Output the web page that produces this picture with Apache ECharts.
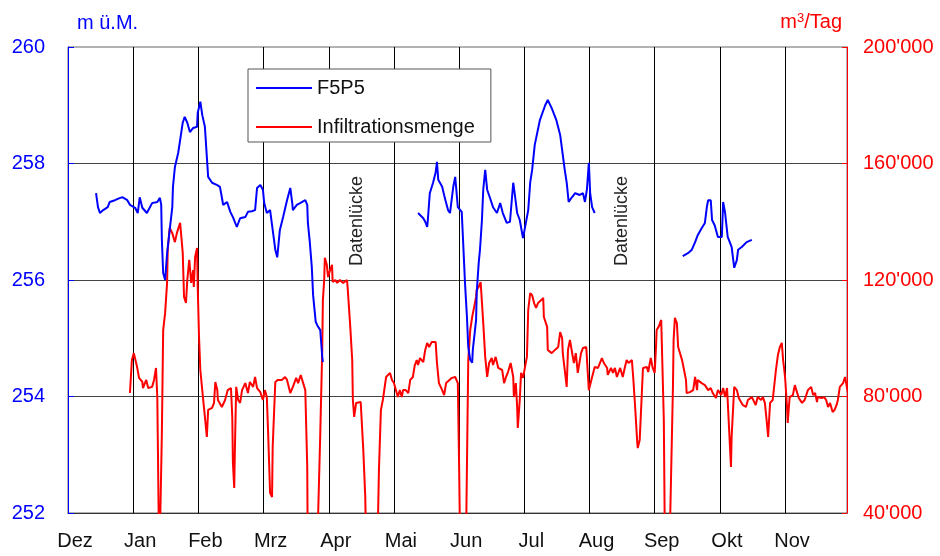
<!DOCTYPE html>
<html>
<head>
<meta charset="utf-8">
<script src="https://cdn.jsdelivr.net/npm/echarts@6/dist/echarts.min.js"></script>
<style>
  html, body { margin: 0; padding: 0; background: #fff; }
  #chart { width: 940px; height: 556px; }
</style>
</head>
<body>
<div id="chart"></div>
<script>
// Monatsbeschriftung der Zeitachse (Dezember bis November)
const months = ['Dez', 'Jan', 'Feb', 'Mrz', 'Apr', 'Mai', 'Jun', 'Jul', 'Aug', 'Sep', 'Okt', 'Nov'];

// Pegel F5P5 [Monat seit 1. Dez, m ü.M.], drei Messabschnitte
const f5p5Winter = [
  [0.43,257.49],[0.46,257.25],[0.49,257.15],[0.54,257.20],[0.61,257.25],[0.64,257.34],[0.72,257.37],[0.80,257.41],
  [0.84,257.42],[0.91,257.37],[0.95,257.29],[1.03,257.24],[1.07,257.15],[1.10,257.42],[1.14,257.24],[1.21,257.15],
  [1.29,257.32],[1.37,257.34],[1.41,257.41],[1.43,257.29],[1.44,256.69],[1.46,256.12],[1.49,256.00],[1.52,256.46],
  [1.56,256.86],[1.60,257.25],[1.61,257.60],[1.64,257.94],[1.69,258.18],[1.72,258.40],[1.76,258.70],[1.79,258.80],
  [1.83,258.70],[1.87,258.54],[1.92,258.61],[1.98,258.63],[1.99,258.87],[2.03,259.06],[2.06,258.83],[2.10,258.63],
  [2.13,258.11],[2.15,257.77],[2.21,257.67],[2.29,257.63],[2.33,257.60],[2.36,257.42],[2.38,257.29],[2.44,257.34],
  [2.49,257.17],[2.53,257.08],[2.59,256.91],[2.64,257.06],[2.72,257.08],[2.76,257.17],[2.82,257.18],[2.87,257.20],
  [2.90,257.58],[2.95,257.63],[2.99,257.55],[3.01,257.32],[3.05,257.15],[3.10,257.20],[3.14,256.86],[3.18,256.52],
  [3.21,256.39],[3.25,256.86],[3.30,257.08],[3.36,257.37],[3.41,257.58],[3.44,257.32],[3.45,257.20],[3.51,257.29],
  [3.56,257.32],[3.64,257.37],[3.67,257.29],[3.68,256.98],[3.71,256.64],[3.74,256.22],[3.76,255.74],[3.80,255.28],
  [3.83,255.21],[3.87,255.14],[3.90,254.68],[3.91,254.59]
];
const f5p5Sommer = [
  [5.37,257.15],[5.40,257.12],[5.45,257.06],[5.48,257.00],[5.51,256.91],[5.52,257.03],[5.55,257.49],[5.60,257.67],
  [5.64,257.85],[5.66,258.03],[5.68,257.72],[5.74,257.60],[5.78,257.41],[5.83,257.20],[5.86,257.15],[5.91,257.60],
  [5.94,257.77],[5.97,257.80],[5.98,257.25],[6.04,257.17],[6.06,256.69],[6.09,255.95],[6.12,255.36],[6.14,254.85],
  [6.17,254.63],[6.20,254.58],[6.21,254.80],[6.26,255.31],[6.27,255.79],[6.30,256.29],[6.32,256.52],[6.35,257.03],
  [6.37,257.55],[6.40,257.89],[6.43,257.55],[6.47,257.42],[6.52,257.25],[6.58,257.15],[6.63,257.32],[6.67,257.15],
  [6.73,256.98],[6.78,257.00],[6.83,257.67],[6.86,257.42],[6.89,257.15],[6.93,257.03],[6.98,256.72],[7.01,256.72],
  [7.06,257.20],[7.09,257.67],[7.12,257.89],[7.16,258.32],[7.24,258.75],[7.32,259.00],[7.36,259.09],[7.42,258.95],
  [7.49,258.75],[7.55,258.49],[7.59,258.15],[7.62,257.89],[7.65,257.67],[7.68,257.34],[7.73,257.42],[7.78,257.49],
  [7.85,257.46],[7.90,257.49],[7.93,257.34],[7.96,257.55],[7.99,258.01],[8.01,257.49],[8.04,257.25],[8.08,257.15]
];
const f5p5Herbst = [
  [9.43,256.41],[9.51,256.46],[9.57,256.52],[9.62,256.65],[9.66,256.77],[9.72,256.89],[9.77,256.98],[9.80,257.25],
  [9.82,257.37],[9.86,257.37],[9.88,257.03],[9.92,256.94],[9.97,256.74],[10.03,256.74],[10.05,257.34],[10.08,257.15],
  [10.12,256.74],[10.18,256.57],[10.22,256.21],[10.26,256.34],[10.28,256.52],[10.34,256.57],[10.41,256.65],[10.49,256.69]
];

// Infiltrationsmenge [Monat seit 1. Dez, m3/Tag]; Werte unter 40'000 laufen unten aus dem Diagramm
const infiltration = [
  [0.95,81200],[0.98,92500],[1.01,94900],[1.04,94900],[1.06,90100],[1.09,86400],[1.14,85000],[1.15,82900],
  [1.20,85700],[1.23,82900],[1.29,83300],[1.32,85700],[1.35,89800],[1.37,79800],[1.38,60600],[1.40,20000],
  [1.43,20000],[1.44,67500],[1.46,102800],[1.49,108700],[1.52,119000],[1.53,130300],[1.56,137900],[1.60,136100],
  [1.64,133000],[1.67,136100],[1.69,135500],[1.72,139600],[1.75,139900],[1.76,129300],[1.78,114200],[1.81,112100],
  [1.83,120000],[1.86,126900],[1.89,119000],[1.92,123400],[1.93,117600],[1.95,127900],[1.98,131000],[1.99,117600],
  [2.01,100400],[2.03,89100],[2.07,79800],[2.10,73000],[2.13,66100],[2.15,75400],[2.21,76100],[2.24,77800],
  [2.26,85000],[2.29,82200],[2.30,78800],[2.36,76400],[2.41,78800],[2.45,82200],[2.50,82900],[2.52,73000],
  [2.53,57200],[2.55,48600],[2.56,61600],[2.58,83300],[2.61,78800],[2.64,77800],[2.67,82200],[2.72,84600],
  [2.76,81200],[2.79,85000],[2.84,83300],[2.87,86700],[2.90,82900],[2.95,81500],[2.99,78800],[3.02,82200],
  [3.05,79800],[3.07,67500],[3.10,46900],[3.13,45500],[3.14,62700],[3.18,85000],[3.22,85700],[3.28,85700],
  [3.33,86700],[3.36,85700],[3.41,81200],[3.45,83300],[3.50,86400],[3.53,84600],[3.57,87400],[3.60,87400],
  [3.64,82200],[3.67,55800],[3.68,20000],[3.82,25000],[3.87,67500],[3.90,96000],[3.91,113100],[3.93,120000],
  [3.94,127600],[3.97,125200],[3.99,121000],[4.02,123400],[4.05,125200],[4.06,119300],[4.10,120000],[4.13,119000],
  [4.17,120000],[4.22,119000],[4.28,120000],[4.29,117300],[4.33,103900],[4.36,92500],[4.37,78800],[4.39,73000],
  [4.42,77800],[4.45,78100],[4.49,78100],[4.51,77800],[4.53,61600],[4.56,45500],[4.58,20000],[4.74,20000],
  [4.77,54800],[4.80,75400],[4.83,78800],[4.88,86700],[4.91,86700],[4.94,88100],[4.97,85700],[5.00,84600],
  [5.03,82200],[5.06,79800],[5.09,82200],[5.12,79800],[5.14,82200],[5.18,82200],[5.22,81200],[5.25,85700],
  [5.29,86700],[5.32,90800],[5.35,92500],[5.37,90800],[5.40,93200],[5.45,91800],[5.48,96000],[5.51,98400],
  [5.54,97000],[5.58,98700],[5.61,98400],[5.64,98700],[5.66,91500],[5.69,84600],[5.74,82200],[5.77,80500],
  [5.80,84600],[5.83,84600],[5.89,86400],[5.94,86700],[5.97,86400],[5.98,84600],[6.00,55800],[6.02,20000],
  [6.10,20000],[6.14,92500],[6.17,102800],[6.20,107300],[6.23,110700],[6.26,114200],[6.27,116600],[6.30,117600],
  [6.33,119300],[6.35,119000],[6.37,105200],[6.40,93600],[6.43,86700],[6.46,91500],[6.50,93200],[6.52,90800],
  [6.56,93600],[6.60,89800],[6.66,89100],[6.69,84600],[6.72,86700],[6.75,88400],[6.79,91500],[6.83,86700],
  [6.84,79800],[6.87,84600],[6.89,76400],[6.90,69200],[6.93,78800],[6.95,88100],[6.98,86400],[7.01,86700],
  [7.04,93600],[7.06,109700],[7.09,115500],[7.12,114800],[7.15,112100],[7.18,110400],[7.21,112100],[7.26,113100],
  [7.29,113800],[7.30,107300],[7.35,103900],[7.36,96000],[7.42,94900],[7.47,96000],[7.52,97000],[7.55,102100],
  [7.58,100100],[7.59,94900],[7.62,89100],[7.65,83300],[7.67,96000],[7.70,99400],[7.73,99400],[7.76,91500],
  [7.79,94900],[7.82,88100],[7.87,94900],[7.90,96700],[7.95,97000],[7.98,85700],[7.99,82200],[8.04,86700],
  [8.08,90100],[8.13,89800],[8.19,93200],[8.22,91500],[8.27,89800],[8.28,87400],[8.33,89800],[8.36,88100],
  [8.39,89800],[8.42,86700],[8.47,89800],[8.51,86700],[8.54,89800],[8.57,92500],[8.60,91500],[8.65,92500],
  [8.67,86700],[8.70,76400],[8.73,65100],[8.74,62300],[8.77,65100],[8.80,79800],[8.82,89800],[8.88,90100],
  [8.90,88400],[8.94,93200],[8.97,89800],[9.00,88100],[9.02,97000],[9.03,102800],[9.06,103900],[9.10,106300],
  [9.13,106600],[9.14,71900],[9.16,20000],[9.22,20000],[9.25,51300],[9.28,83300],[9.29,99400],[9.31,107000],
  [9.34,105200],[9.36,97000],[9.42,92500],[9.45,89100],[9.48,85700],[9.49,81200],[9.54,81500],[9.59,82200],
  [9.62,86700],[9.65,82200],[9.66,85700],[9.72,84600],[9.77,83900],[9.82,82200],[9.86,82900],[9.89,81200],
  [9.94,79500],[9.97,82200],[10.02,80500],[10.05,82900],[10.08,79800],[10.11,82900],[10.14,69500],[10.17,55800],
  [10.18,66100],[10.22,83300],[10.26,82200],[10.29,79500],[10.35,77100],[10.40,76400],[10.43,78800],[10.49,79800],
  [10.52,79500],[10.55,77100],[10.58,79800],[10.63,78800],[10.66,79800],[10.69,77800],[10.72,71200],[10.74,66100],
  [10.77,77800],[10.81,78800],[10.86,89100],[10.89,94200],[10.92,97000],[10.95,98400],[10.97,92500],[11.00,86700],
  [11.03,76400],[11.04,70900],[11.07,79800],[11.12,80500],[11.15,83900],[11.18,83300],[11.21,79500],[11.26,77800],
  [11.30,78800],[11.35,82200],[11.40,83300],[11.43,80500],[11.46,81200],[11.49,78100],[11.50,79800],[11.56,79500],
  [11.60,79800],[11.63,78800],[11.66,76400],[11.69,77800],[11.73,74700],[11.76,75400],[11.79,77100],[11.81,78800],
  [11.84,83300],[11.89,84600],[11.92,86700],[11.95,86400],[11.97,80500]
];

// Achsenbereiche
const pegelTicks = { min: 252, max: 260, interval: 2 };
const mengeTicks = { min: 40000, max: 200000, interval: 40000 };

const FONT = "'Liberation Sans', Arial, Helvetica, sans-serif";
const BLUE = '#0000ff';
const RED = '#ff0000';

// Abschnitte der Pegelmessung mit Lücken dazwischen zu einer Linie verbinden
const gap = (x) => [x, null];
const f5p5 = [].concat(f5p5Winter, [gap(4.6)], f5p5Sommer, [gap(8.7)], f5p5Herbst);

const fmtThousands = (v) => String(Math.round(v)).replace(/\B(?=(\d{3})+(?!\d))/g, "'");

const chart = echarts.init(document.getElementById('chart'), null, { renderer: 'canvas' });

chart.setOption({
  animation: false,
  backgroundColor: '#fff',
  textStyle: { fontFamily: FONT },
  grid: {
    left: 68, right: 93, top: 47, bottom: 43,
    show: true, borderColor: '#666', borderWidth: 1, backgroundColor: 'transparent'
  },
  legend: {
    orient: 'vertical',
    left: 248, top: 69,
    data: ['F5P5', 'Infiltrationsmenge'],
    icon: 'rect',
    itemWidth: 56, itemHeight: 2, itemGap: 17,
    padding: [8, 16, 4, 8],
    backgroundColor: '#fff',
    borderColor: '#555', borderWidth: 1,
    textStyle: { fontSize: 20, color: '#111', fontFamily: FONT, lineHeight: 22 }
  },
  xAxis: {
    type: 'value',
    min: 0, max: 11.95, interval: 1,
    axisLine: { show: true, lineStyle: { color: '#333', width: 1 } },
    axisTick: { show: false },
    axisLabel: {
      fontSize: 20, color: '#111', fontFamily: FONT, margin: 18,
      padding: [0, 0, 0, 14],
      showMaxLabel: false,
      formatter: (v) => months[Math.round(v)] !== undefined && Math.abs(v - Math.round(v)) < 1e-6 ? months[Math.round(v)] : ''
    },
    splitLine: { show: true, showMinLine: false, showMaxLine: false, lineStyle: { color: '#000', width: 1 } }
  },
  yAxis: [
    {
      type: 'value', position: 'left',
      min: pegelTicks.min, max: pegelTicks.max, interval: pegelTicks.interval,
      name: 'm ü.M.', nameLocation: 'end', nameGap: 14,
      nameTextStyle: { color: BLUE, fontSize: 20, fontFamily: FONT, align: 'left', padding: [0, 0, 0, 9] },
      axisLine: { show: true, lineStyle: { color: BLUE, width: 1 } },
      axisTick: { show: true, inside: true, length: 6, lineStyle: { color: BLUE } },
      axisLabel: { color: BLUE, fontSize: 20, fontFamily: FONT, margin: 23 },
      splitLine: { show: true, showMinLine: false, showMaxLine: false, lineStyle: { color: '#444', width: 1 } }
    },
    {
      type: 'value', position: 'right',
      min: mengeTicks.min, max: mengeTicks.max, interval: mengeTicks.interval,
      name: 'm{sup|3}/Tag', nameLocation: 'end', nameGap: 14,
      nameTextStyle: {
        color: RED, fontSize: 20, fontFamily: FONT, align: 'right', padding: [0, 5, 0, 0],
        rich: { sup: { fontSize: 13, color: RED, fontFamily: FONT, verticalAlign: 'top', padding: [0, 0, 8, 0] } }
      },
      axisLine: { show: true, lineStyle: { color: RED, width: 1 } },
      axisTick: { show: true, inside: true, length: 5, lineStyle: { color: RED } },
      axisLabel: { color: RED, fontSize: 20, fontFamily: FONT, margin: 16, formatter: fmtThousands },
      splitLine: { show: false }
    }
  ],
  graphic: [
    {
      type: 'text', x: 357, y: 221, rotation: Math.PI / 2, z: 50,
      style: { text: 'Datenlücke', fontSize: 18, fontFamily: FONT, fill: '#222', align: 'center', verticalAlign: 'middle' }
    },
    {
      type: 'text', x: 622, y: 221, rotation: Math.PI / 2, z: 50,
      style: { text: 'Datenlücke', fontSize: 18, fontFamily: FONT, fill: '#222', align: 'center', verticalAlign: 'middle' }
    }
  ],
  series: [
    {
      name: 'Infiltrationsmenge', type: 'line', yAxisIndex: 1,
      data: infiltration, showSymbol: false, clip: true,
      lineStyle: { color: RED, width: 2 }, itemStyle: { color: RED }
    },
    {
      name: 'F5P5', type: 'line', yAxisIndex: 0,
      data: f5p5, showSymbol: false, connectNulls: false, clip: true,
      lineStyle: { color: BLUE, width: 2 }, itemStyle: { color: BLUE }
    }
  ]
});
</script>
</body>
</html>
